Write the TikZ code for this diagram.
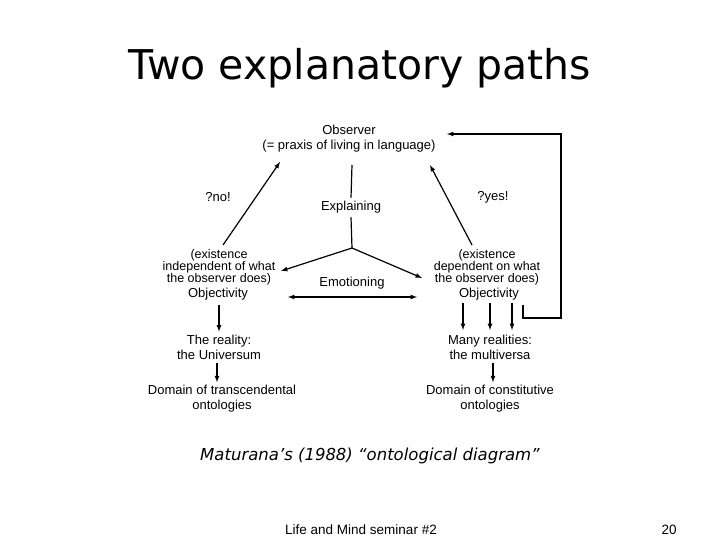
\documentclass[tikz,border=0pt]{standalone}
\usepackage{fontspec}
\setmainfont{Liberation Sans}
\newfontfamily\titlefont{DejaVu Sans}
\begin{document}
\begin{tikzpicture}[x=1pt,y=-1pt,
	lbl/.style={font=\fontsize{13}{15}\selectfont,align=center,inner sep=0pt},
	small/.style={font=\fontsize{12.5}{11.8}\selectfont},
	arr/.style={line width=1.2pt,-latex},
	ln/.style={line width=1.2pt}]
	\useasboundingbox (0,0) rectangle (720,540);
	\node[font=\titlefont\fontsize{41}{44}\selectfont] (title) at (360,68) {Two explanatory paths};

	\node[lbl] (obs) at (349,139) {Observer\\(= praxis of living in language)};
	\node[lbl] (expl) at (351,207) {Explaining};
	\node[lbl] (emo) at (352,283) {Emotioning};
	\node[lbl] (no) at (218,197) {?no!};
	\node[lbl] (yes) at (493,197) {?yes!};
	\node[lbl,small] (indep) at (219,267) {(existence\\independent of what\\the observer does)};
	\node[lbl] (objl) at (218,294) {Objectivity};
	\node[lbl,small] (dep) at (487,267) {(existence\\dependent on what\\the observer does)};
	\node[lbl] (objr) at (489,294) {Objectivity};
	\node[lbl] (real) at (219,347) {The reality:\\the Universum};
	\node[lbl] (multi) at (490,347) {Many realities:\\the multiversa};
	\node[lbl] (trans) at (222,399) {Domain of transcendental\\ontologies};
	\node[lbl] (const) at (490,399) {Domain of constitutive\\ontologies};

	\coordinate (fork) at (352,248);
	\draw[ln] (352,165) -- ([yshift=3pt]expl.north);
	\draw[ln] ([yshift=-4pt]expl.south) -- (fork);
	\draw[arr] (fork) -- (281,271);
	\draw[arr] (fork) -- (422,278);
	\draw[line width=1.2pt,latex-latex] (288,297) -- (417,297);
	\draw[arr] (223,245) -- (280,162);
	\draw[arr] (472,245) -- (430,165);
	\draw[arr] ([yshift=-5pt]objl.south -| 219,0) -- ([yshift=3pt]real.north -| 219,0);
	\draw[arr] ([yshift=-4pt]real.south -| 217,0) -- ([yshift=3pt]trans.north -| 217,0);
	\foreach \x in {463,490,512}
		\draw[arr] (\x,303) -- (\x,330);
	\draw[arr] ([yshift=-4pt]multi.south -| 493,0) -- ([yshift=3pt]const.north -| 493,0);
	\draw[line width=1.2pt,-latex] (523,305) -- (523,318) -- (561,318) -- (561,134) -- (447,134);

	\node[font=\titlefont\itshape\fontsize{16.5}{18}\selectfont] (cap) at (370,456) {Maturana’s (1988) “ontological diagram”};
	\node[font=\fontsize{13.5}{15}\selectfont] (foot) at (361,530) {Life and Mind seminar \#2};
	\node[font=\fontsize{13.5}{15}\selectfont] (page) at (669,530) {20};
\end{tikzpicture}
\end{document}
